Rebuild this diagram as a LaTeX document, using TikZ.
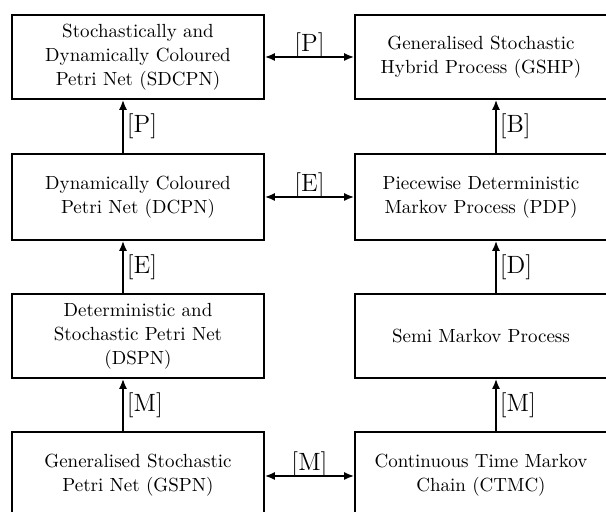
\documentclass[tikz,border=0pt]{standalone}
\usetikzlibrary{arrows.meta}
\begin{document}
\begin{tikzpicture}[x=0.5pt,y=-0.5pt,
  model/.style={draw, line width=0.9pt, minimum width=126pt, minimum height=42pt,
    inner sep=0pt, align=center, font=\fontsize{9.5}{12}\selectfont},
  tip/.tip={Latex[length=5pt,width=4pt]},
  link/.style={line width=0.8pt, -tip},
  both/.style={line width=0.8pt, tip-tip},
  tag/.style={font=\fontsize{12.5}{14}\selectfont, inner sep=1.5pt},
  toptag/.style={tag, inner sep=0pt, yshift=-1pt}]
\useasboundingbox (0,0) rectangle (606,512);

% Petri net column
\node[model] (sdcpn) at (138,57)  {Stochastically and\\Dynamically Coloured\\Petri Net (SDCPN)};
\node[model, minimum height=43pt] (dcpn) at (138,197) {Dynamically Coloured\\Petri Net (DCPN)};
\node[model] (dspn)  at (138,336) {Deterministic and\\Stochastic Petri Net\\(DSPN)};
\node[model, minimum height=43pt] (gspn) at (138,475) {Generalised Stochastic\\Petri Net (GSPN)};

% Process column
\node[model] (gshp)  at (481,57)  {Generalised Stochastic\\Hybrid Process (GSHP)};
\node[model, minimum height=43pt] (pdp) at (481,197) {Piecewise Deterministic\\Markov Process (PDP)};
\node[model] (smp)   at (481,336) {Semi Markov Process};
\node[model, minimum height=43pt] (ctmc) at (481,475) {Continuous Time Markov\\Chain (CTMC)};

% Vertical relations
\draw[link] ([xshift=-7.5pt]dcpn.north) -- ([xshift=-7.5pt]sdcpn.south) node[tag, midway, right] {[P]};
\draw[link] ([xshift=-7.5pt]dspn.north) -- ([xshift=-7.5pt]dcpn.south)  node[tag, midway, right] {[E]};
\draw[link] ([xshift=-7.5pt]gspn.north) -- ([xshift=-7.5pt]dspn.south)  node[tag, midway, right] {[M]};
\draw[link] ([xshift=7.5pt]pdp.north)   -- ([xshift=7.5pt]gshp.south)   node[tag, midway, right] {[B]};
\draw[link] ([xshift=7.5pt]smp.north)   -- ([xshift=7.5pt]pdp.south)    node[tag, midway, right] {[D]};
\draw[link] ([xshift=7.5pt]ctmc.north)  -- ([xshift=7.5pt]smp.south)    node[tag, midway, right] {[M]};

% Horizontal relations
\draw[both] (sdcpn.east) -- (gshp.west) node[toptag, midway, above] {[P]};
\draw[both] (dcpn.east)  -- (pdp.west)  node[toptag, midway, above] {[E]};
\draw[both] ([yshift=-0.5pt]gspn.east) -- ([yshift=-0.5pt]ctmc.west) node[toptag, midway, above] {[M]};
\end{tikzpicture}
\end{document}
